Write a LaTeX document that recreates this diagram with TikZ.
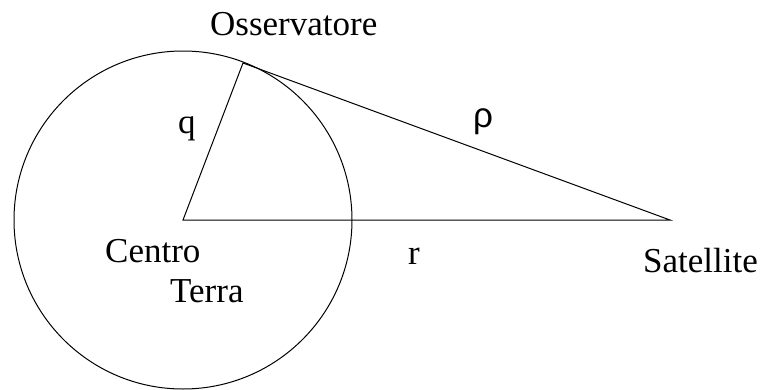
\documentclass[tikz,border=0pt]{standalone}
\usepackage{fontspec}
\setmainfont{Liberation Serif}
\newfontfamily\rhofont{Liberation Sans}
\begin{document}
\begin{tikzpicture}[x=1pt,y=-1pt,
  lbl/.style={anchor=base west,inner sep=0pt,font=\fontsize{35}{40}\selectfont},
  ln/.style={line width=1pt}]
\useasboundingbox (0,0) rectangle (764,389);
\coordinate (C) at (183,220);
\coordinate (O) at (243,63);
\coordinate (S) at (670,220);
\draw[ln] (C) circle (169);
\draw[ln] (C) -- (O) -- (S) -- cycle;
\node[lbl] (obs) at (210,35) {Osservatore};
\node[lbl] (q) at (178,133) {q};
\node[lbl,font=\fontsize{35}{40}\selectfont\rhofont] (rho) at (473,127) {ρ};
\node[lbl] (r) at (408,264) {r};
\node[lbl] (cen) at (105,262) {Centro};
\node[lbl] (ter) at (170,302) {Terra};
\node[lbl] (sat) at (643,272) {Satellite};
\end{tikzpicture}
\end{document}
